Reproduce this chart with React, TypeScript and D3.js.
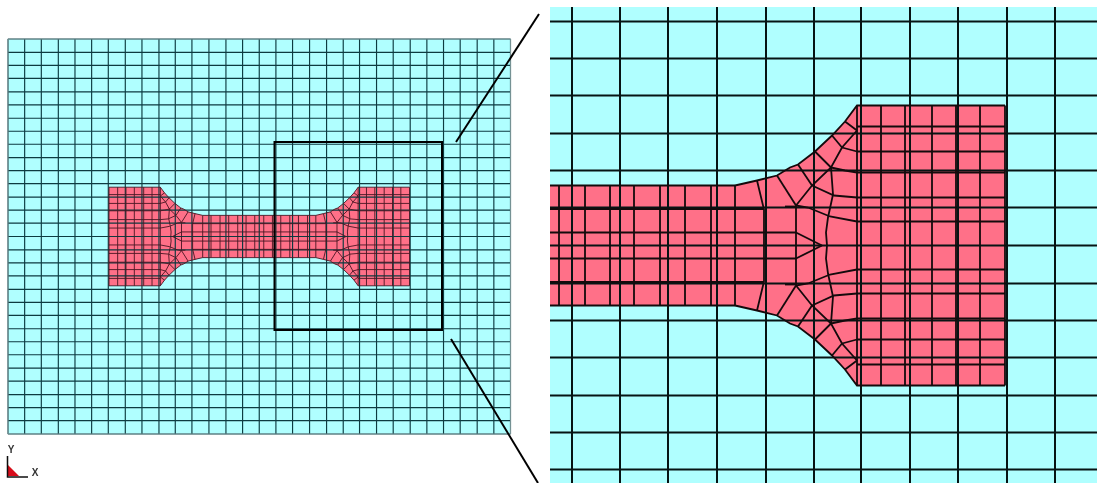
import React from "react";
import * as d3 from "d3";

type Pt = [number, number];

// Mesh coordinates, measured from the centre of the specimen.
const gridU = [0, 48, 96, 145, 194, 242, 289, 338, 386, 435, 483, 531, 579, 628, 676, 724];
const gridV = [0, 38, 75, 112, 150, 187, 224, 262, 299, 336, 374, 411, 449, 486, 523, 561];

const neckU = [13, 38, 62, 88, 113, 139, 163];
const neckV = [13, 36.5];
const neckEdge = 60;
const blockU = [285, 309, 333, 360, 384, 408, 433];
const blockV = [24, 48, 73, 94, 119];

const outlineQuadrant: Pt[] = [
  [163, -60], [185, -65], [205, -70], [218, -78], [226, -81], [243, -94],
  [260, -110], [273, -124], [285, -140], [433, -140],
];

const transitionLines: Pt[][] = [
  [[185, -65], [192, -36], [192, 0]],
  [[205, -70], [224, -40]],
  [[213, -39], [224, -39]],
  [[226, -81], [240, -60]],
  [[243, -94], [259, -78]],
  [[260, -110], [270, -98]],
  [[273, -124], [285, -115]],
  [[224, -40], [240, -60], [259, -78], [270, -98], [285, -115]],
  [[224, -40], [224, 0]],
  [[259, -78], [261, -51], [256, -28], [254, -13], [255, 0]],
  [[240, -60], [262, -50], [285, -48]],
  [[259, -78], [273, -75], [285, -73]],
  [[270, -98], [285, -94]],
  [[224, -40], [236, -38], [258, -29], [285, -24]],
  [[224, -13], [250, 0]],
];

const triadLabels = { y: "Y", x: "X" };
const connectors: [Pt, Pt][] = [
  [[456, 142], [539, 14]],
  [[451, 339], [538, 483]],
];
const triadAxes: Pt[] = [[7.5, 456], [7.5, 477], [28, 477]];
const triadMark: Pt[] = [[8, 465], [19, 476], [8, 476]];
const zoomBox = { x0: 274.5, y0: 142, x1: 442, y1: 330 };

const CYAN = "#b0ffff";
const PINK = "#ff7088";

const mirror = (line: Pt[], sx: number, sy: number): Pt[] =>
  line.map(([u, v]) => [u * sx, v * sy] as Pt);

const allQuadrants = (line: Pt[]): Pt[][] => [
  mirror(line, 1, 1), mirror(line, -1, 1), mirror(line, 1, -1), mirror(line, -1, -1),
];

const meshLines: Pt[][] = [
  ...neckU.flatMap((u) => allQuadrants([[u, -neckEdge], [u, 0]])),
  ...neckV.flatMap((v) => allQuadrants([[0, -v], [v === 13 ? 224 : 192, -v]])),
  ...allQuadrants([[0, -neckEdge], [163, -neckEdge]]),
  ...blockU.flatMap((u) => allQuadrants([[u, -140], [u, 0]])),
  ...blockV.flatMap((v) => allQuadrants([[285, -v], [433, -v]])),
  ...transitionLines.flatMap(allQuadrants),
  ...allQuadrants(outlineQuadrant),
];

const outlinePolygon: Pt[] = [
  ...outlineQuadrant,
  ...mirror(outlineQuadrant, 1, -1).reverse(),
  ...mirror(outlineQuadrant, -1, -1),
  ...mirror(outlineQuadrant, -1, 1).reverse(),
];

const symmetric = (a: number[]) => Array.from(new Set([...a, ...a.map((d) => -d)])).sort((p, q) => p - q);

function Mesh({ x, y, gridStroke, gridWidth, meshStroke, meshWidth }: {
  x: d3.ScaleLinear<number, number>;
  y: d3.ScaleLinear<number, number>;
  gridStroke: string;
  gridWidth: number;
  meshStroke: string;
  meshWidth: number;
}) {
  const path = d3.line<Pt>().x((d) => x(d[0])).y((d) => y(d[1]));
  const us = symmetric(gridU);
  const vs = symmetric(gridV);
  const uMax = gridU[gridU.length - 1];
  const vMax = gridV[gridV.length - 1];
  return (
    <g fill="none">
      <rect x={x(-uMax)} y={y(-vMax)} width={x(uMax) - x(-uMax)} height={y(vMax) - y(-vMax)} fill={CYAN} />
      <path d={(path(outlinePolygon) ?? "") + "Z"} fill={PINK} />
      {us.map((u) => (
        <path key={"u" + u} d={path([[u, -vMax], [u, vMax]]) ?? ""} stroke={gridStroke} strokeWidth={gridWidth} />
      ))}
      {vs.map((v) => (
        <path key={"v" + v} d={path([[-uMax, v], [uMax, v]]) ?? ""} stroke={gridStroke} strokeWidth={gridWidth} />
      ))}
      {meshLines.map((l, i) => (
        <path key={i} d={path(l) ?? ""} stroke={meshStroke} strokeWidth={meshWidth} />
      ))}
    </g>
  );
}

export default function App() {
  const W = 1097;
  const H = 483;
  const overviewX = d3.scaleLinear().domain([-724, 724]).range([8, 510.5]);
  const overviewY = d3.scaleLinear().domain([-561, 561]).range([39, 434]);
  const detailX = d3.scaleLinear().domain([0, 433]).range([572, 1005]);
  const detailY = d3.scaleLinear().domain([-140, 140]).range([105.5, 385.5]);
  const plain = d3.line<Pt>();
  return (
    <svg width={W} height={H} viewBox={`0 0 ${W} ${H}`}
      style={{ position: "absolute", left: 0, top: 0, background: "#fff" }}>
      <defs>
        <clipPath id="detail"><rect x={550} y={7} width={547} height={476} /></clipPath>
        <filter id="soft" x="-2%" y="-2%" width="104%" height="104%">
          <feGaussianBlur stdDeviation="0.5" />
        </filter>
      </defs>
      <g filter="url(#soft)">
        <Mesh x={overviewX} y={overviewY} gridStroke="#0c3a40" gridWidth={1.15} meshStroke="#4a1622" meshWidth={0.9} />
        <rect x={overviewX(-724)} y={overviewY(-561)} width={overviewX(724) - overviewX(-724)}
          height={overviewY(561) - overviewY(-561)} fill="none" stroke="#8fa8aa" strokeWidth={0.8} />
        <path d={plain(triadMark) + "Z"} fill="#d8101c" />
        <path d={plain(triadAxes) ?? ""} fill="none" stroke="#111" strokeWidth={1.5} />
        <text x={11} y={453} fontFamily="Liberation Sans, sans-serif" fontSize={10} fontWeight={700}
          textAnchor="middle" fill="#333">{triadLabels.y}</text>
        <text x={35} y={476} fontFamily="Liberation Sans, sans-serif" fontSize={10} fontWeight={700}
          textAnchor="middle" fill="#333">{triadLabels.x}</text>
      </g>
      <rect x={zoomBox.x0} y={zoomBox.y0} width={zoomBox.x1 - zoomBox.x0} height={zoomBox.y1 - zoomBox.y0}
        fill="none" stroke="#000" strokeWidth={2} />
      {connectors.map((c, i) => (
        <path key={i} d={plain(c) ?? ""} stroke="#000" strokeWidth={2} fill="none" />
      ))}
      <g clipPath="url(#detail)">
        <rect x={550} y={7} width={547} height={476} fill={CYAN} />
        <Mesh x={detailX} y={detailY} gridStroke="#071414" gridWidth={2} meshStroke="#140a0c" meshWidth={1.8} />
      </g>
    </svg>
  );
}
